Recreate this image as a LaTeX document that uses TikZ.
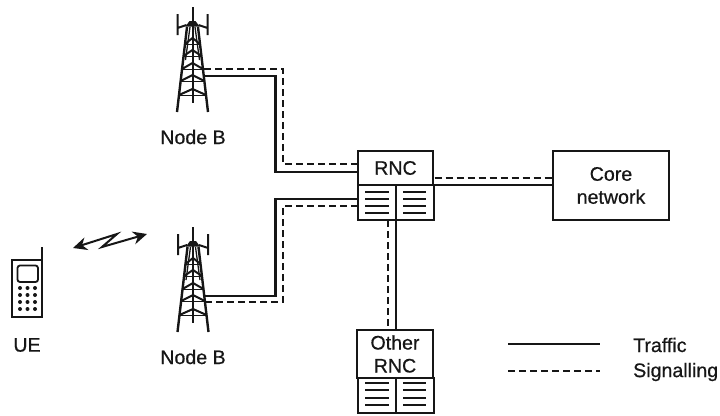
\documentclass[tikz,border=0pt]{standalone}
\usepackage{fontspec}
\setmainfont{Liberation Sans}[AutoFakeBold=0.6]
\usetikzlibrary{arrows.meta,calc}
\definecolor{ink}{HTML}{161616}
\tikzset{
  lbl/.style={font=\fontsize{19.6}{22}\selectfont\bfseries,text=ink,inner sep=0pt,align=center},
  boxnode/.style={draw=ink,line width=2pt,inner sep=0pt,fill=white,lbl},
  traffic/.style={draw=ink,line width=2.1pt},
  signal/.style={draw=ink,line width=2.1pt,dash pattern=on 7pt off 4pt},
  bars/.style={draw=ink,line width=1.9pt},
  tower/.pic={
    \draw[ink,line width=2pt] (0,7)--(0,103);
    \draw[ink,line width=2.4pt] (-5.5,27)--(-15.5,112) (5.5,27)--(15.5,112);
    \draw[ink,line width=1.3pt] (-2.5,27)--(-7,60) (2.5,27)--(7,60);
    \fill[ink] (-7,26.5)--(-3,21)--(3,21)--(7,26.5)--cycle;
    \draw[ink,line width=2pt] (-15,14)--(-15,35) (15,14)--(15,35) (-15,28)--(-6,25) (15,28)--(6,25);
    \foreach \p in {38,50,63,75,89}{
      \pgfmathsetmacro{\hw}{5.5+(\p+6-27)*10/85}
      \draw[ink,line width=2pt] (-\hw,\p+6)--(0,\p)--(\hw,\p+6);
      \draw[ink,line width=1pt] (-\hw,\p+6)--(\hw,\p+6);
    }
  }
}
\begin{document}
\begin{tikzpicture}[x=1pt,y=-1pt]
\useasboundingbox (0,0) rectangle (720,415);
% towers
\coordinate (towerTop) at (192.5,0);
\coordinate (towerLow) at (193,220);
\pic at (towerTop) {tower};
\pic at (towerLow) {tower};
% boxes
\node[boxnode,minimum width=75.5pt,minimum height=34pt] (rnc) at (395.5,168) {RNC};
\node[boxnode,minimum width=38pt,minimum height=35pt] (rncL) at (377,202.5) {};
\node[boxnode,minimum width=37.5pt,minimum height=35pt] (rncR) at (414.75,202.5) {};
\node[boxnode,minimum width=116pt,minimum height=69pt] (core) at (611,185.5) {Core\\[1pt]network};
\node[boxnode,minimum width=76pt,minimum height=48pt] (other) at (395,354) {Other\\[1pt]RNC};
\node[boxnode,minimum width=38.5pt,minimum height=35pt] (otherL) at (376.75,395.5) {};
\node[boxnode,minimum width=37.5pt,minimum height=35pt] (otherR) at (414.75,395.5) {};
% bars inside boxes
\foreach \y in {192.3,199.3,206.3,213.3}{
  \draw[bars] (365,\y)--(389,\y) (403,\y)--(426,\y);
}
\foreach \y in {383,390,398,405}{
  \draw[bars] (365,\y)--(389,\y) (403,\y)--(426,\y);
}
% connector ends
\coordinate (t1a) at (204,76);  \coordinate (b1a) at (275.5,172); \coordinate (r1a) at (rnc.west |- b1a);
\coordinate (t1b) at (204,69);  \coordinate (b1b) at (283,164);  \coordinate (r1b) at (rnc.west |- b1b);
\coordinate (t2a) at (203.5,296); \coordinate (b2a) at (275.5,199); \coordinate (r2a) at (rncL.west |- b2a);
\coordinate (t2b) at (205,302); \coordinate (b2b) at (283,206);  \coordinate (r2b) at (rncL.west |- b2b);
\coordinate (c1a) at (core.west |- 0,185); \coordinate (c1b) at (core.west |- 0,178);
\coordinate (r3a) at (rncR.east |- c1a); \coordinate (r3b) at (rncR.east |- c1b);
\coordinate (d1a) at (396,220); \coordinate (d1b) at (388,220);
\coordinate (o1a) at (396,330); \coordinate (o1b) at (388,330);
% connectors
\draw[traffic] (t1a) -| (b1a) -- (r1a);
\draw[signal] (t1b) -| (b1b) -- (r1b);
\draw[traffic] (t2a) -| (b2a) -- (r2a);
\draw[signal] (t2b) -| (b2b) -- (r2b);
\draw[traffic] (r3a) -- (c1a);
\draw[signal] (r3b) -- (c1b);
\draw[traffic] (d1a) -- (o1a);
\draw[signal] (d1b) -- (o1b);
% phone
\draw[ink,line width=2pt] (11.5,260) rectangle (42,317) (42,260)--(42,247);
\draw[ink,line width=1.8pt,rounded corners=2.5pt] (17.5,265.5) rectangle (38,282);
\foreach \y in {288,295,302,309}\foreach \x in {20,27.5,35}{\fill[ink] (\x,\y) circle (2pt);}
% radio link
\coordinate (radioA) at (73,248); \coordinate (radioB) at (147,234);
\coordinate (zigA) at (117,234); \coordinate (zigB) at (102,247);
\draw[ink,line width=2pt,{Stealth[length=14pt,width=13pt]}-{Stealth[length=14pt,width=13pt]},line join=miter] (radioA)--(zigA)--(zigB)--(radioB);
% labels
\node[lbl] (labTop) at (193,137) {Node B};
\node[lbl] (labLow) at (193,357) {Node B};
\node[lbl] (labUE) at (27,345) {UE};
% legend
\coordinate (legA1) at (508,344); \coordinate (legA2) at (600,344);
\coordinate (legB1) at (508,371); \coordinate (legB2) at (600,371);
\draw[traffic] (legA1)--(legA2);
\draw[draw=ink,line width=1.8pt,dash pattern=on 7pt off 4pt] (legB1)--(legB2);
\node[lbl,anchor=west] (labTraffic) at (633,345) {Traffic};
\node[lbl,anchor=west] (labSignal) at (633,372) {Signalling};
\end{tikzpicture}
\end{document}
